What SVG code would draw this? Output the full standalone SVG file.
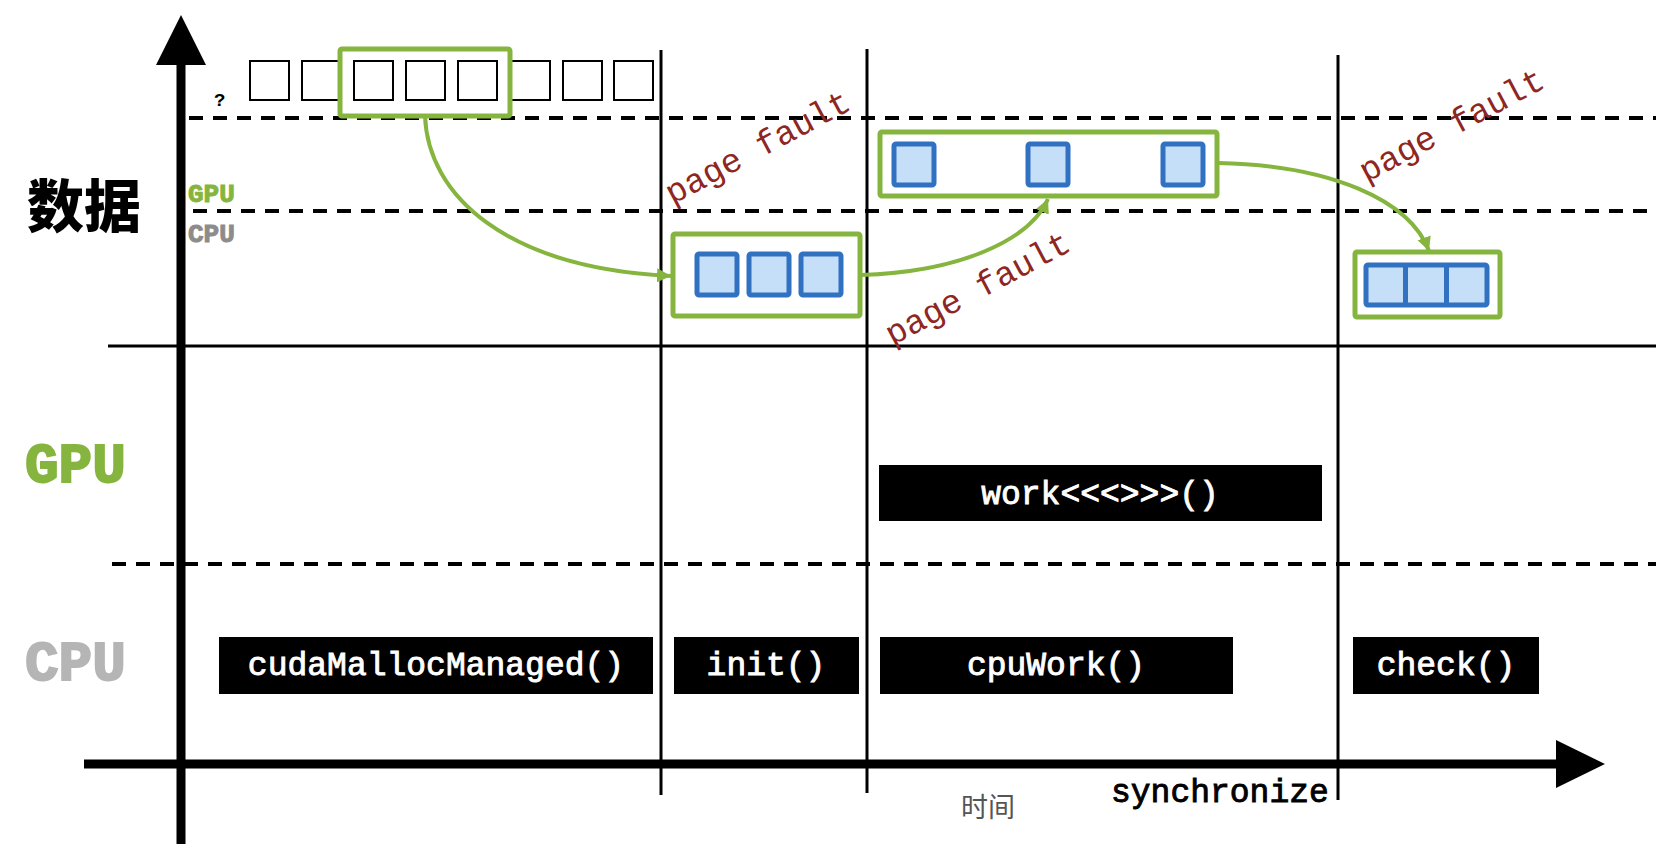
<svg xmlns="http://www.w3.org/2000/svg" width="1656" height="844" viewBox="0 0 1656 844">
<style>
.dash{stroke:#000;stroke-width:4;stroke-dasharray:14 10;fill:none}
.thin{stroke:#000;stroke-width:3;fill:none}
.sq{fill:#fff;stroke:#000;stroke-width:2}
.gbox{fill:#fff;stroke:#85b53e;stroke-width:5}
.gboxn{fill:none;stroke:#85b53e;stroke-width:5}
.bsq{fill:#c6dff8;stroke:#3171c1;stroke-width:5}
.bar{fill:#000}
.bt{font-family:"Liberation Mono","DejaVu Sans Mono",monospace;font-size:33px;fill:#fff;stroke:#fff;stroke-width:0.9px;text-anchor:middle}
.pf{font-family:"Liberation Mono","DejaVu Sans Mono",monospace;font-size:34px;fill:#8e2621;text-anchor:middle}
.conn{fill:none;stroke:#85b53e;stroke-width:4}
.lab{font-family:"Liberation Mono","DejaVu Sans Mono",monospace;font-weight:bold}
.mono{font-family:"Liberation Mono","DejaVu Sans Mono",monospace}
</style>
<defs>
<marker id="ah" markerUnits="userSpaceOnUse" markerWidth="16" markerHeight="16" refX="14" refY="7" orient="auto">
<path d="M0,0 L14,7 L0,14 z" fill="#85b53e"/>
</marker>
</defs>
<rect width="1656" height="844" fill="#fff"/>
<g id="grid">
<line class="dash" x1="189" y1="118" x2="1656" y2="118"/>
<line class="dash" x1="193" y1="211" x2="1656" y2="211"/>
<line class="dash" x1="112" y1="564" x2="1656" y2="564"/>
<line class="thin" x1="108" y1="346" x2="1656" y2="346"/>
<line class="thin" x1="661" y1="50" x2="661" y2="795"/>
<line class="thin" x1="867" y1="49" x2="867" y2="793"/>
<line class="thin" x1="1338" y1="55" x2="1338" y2="800"/>
</g>
<g id="axes">
<rect x="176.5" y="60" width="9" height="784" fill="#000"/>
<polygon points="156,65 181,15 206,65" fill="#000"/>
<rect x="84" y="759.5" width="1475" height="9" fill="#000"/>
<polygon points="1556,740 1605,764 1556,788" fill="#000"/>
</g>
<g id="labels">
<text x="27" y="227" font-family="'Noto Sans CJK SC',sans-serif" font-size="57" font-weight="900" fill="#000">数据</text>
<text x="188" y="202" class="lab" font-size="26" fill="#85b53e" stroke="#85b53e" stroke-width="1">GPU</text>
<text x="188" y="242" class="lab" font-size="26" fill="#8c8c8c" stroke="#8c8c8c" stroke-width="1">CPU</text>
<text x="214" y="106" class="lab" font-size="19" fill="#000">?</text>
<text x="25" y="482" class="lab" font-size="56" fill="#85b53e" stroke="#85b53e" stroke-width="2">GPU</text>
<text x="25" y="680" class="lab" font-size="56" fill="#b5b5b5" stroke="#b5b5b5" stroke-width="2">CPU</text>
<text x="1111" y="802" class="mono" font-size="33" fill="#000" stroke="#000" stroke-width="0.9">synchronize</text>
<text x="961" y="817" font-family="'Noto Sans CJK SC',sans-serif" font-size="27" fill="#555">时间</text>
</g>
<g id="memory-row">
<rect class="sq" x="250" y="61" width="39" height="39"/>
<rect class="sq" x="302" y="61" width="39" height="39"/>
<rect class="sq" x="354" y="61" width="39" height="39"/>
<rect class="sq" x="406" y="61" width="39" height="39"/>
<rect class="sq" x="458" y="61" width="39" height="39"/>
<rect class="sq" x="511" y="61" width="39" height="39"/>
<rect class="sq" x="563" y="61" width="39" height="39"/>
<rect class="sq" x="614" y="61" width="39" height="39"/>
<rect class="gboxn" x="340" y="49" width="170" height="67" rx="2"/>
</g>
<g id="connectors">
<path class="conn" d="M425,116 C428,195 505,268 671,276" marker-end="url(#ah)"/>
<path class="conn" d="M861,275 C960,272 1030,240 1048,199" marker-end="url(#ah)"/>
<path class="conn" d="M1218,163 C1330,165 1410,200 1429,251" marker-end="url(#ah)"/>
</g>
<g id="cpu-data-init">
<rect class="gbox" x="673" y="234" width="187" height="82" rx="2"/>
<rect class="bsq" x="697" y="254" width="40" height="41" rx="2"/>
<rect class="bsq" x="749" y="254" width="40" height="41" rx="2"/>
<rect class="bsq" x="801" y="254" width="40" height="41" rx="2"/>
</g>
<g id="gpu-data">
<rect class="gbox" x="880" y="132" width="337" height="64" rx="2"/>
<rect class="bsq" x="894" y="144" width="40" height="41" rx="2"/>
<rect class="bsq" x="1028" y="144" width="40" height="41" rx="2"/>
<rect class="bsq" x="1163" y="144" width="40" height="41" rx="2"/>
</g>
<g id="cpu-data-check">
<rect class="gbox" x="1355" y="252" width="145" height="65" rx="2"/>
<rect class="bsq" x="1366" y="265" width="121" height="40" rx="2"/>
<line x1="1405.5" y1="265" x2="1405.5" y2="305" stroke="#3171c1" stroke-width="5"/>
<line x1="1446.5" y1="265" x2="1446.5" y2="305" stroke="#3171c1" stroke-width="5"/>
</g>
<g id="page-faults">
<text class="pf" transform="translate(758,148) rotate(-28)" x="0" y="10">page fault</text>
<text class="pf" transform="translate(978,289) rotate(-28)" x="0" y="10">page fault</text>
<text class="pf" transform="translate(1452,126) rotate(-28)" x="0" y="10">page fault</text>
</g>
<g id="bar-work">
<rect class="bar" x="879" y="465" width="443" height="56"/>
<text class="bt" x="1100" y="504">work&lt;&lt;&lt;&gt;&gt;&gt;()</text>
</g>
<g id="bar-cudaMallocManaged">
<rect class="bar" x="219" y="637" width="434" height="57"/>
<text class="bt" x="436" y="675">cudaMallocManaged()</text>
</g>
<g id="bar-init">
<rect class="bar" x="674" y="637" width="185" height="57"/>
<text class="bt" x="766" y="675">init()</text>
</g>
<g id="bar-cpuWork">
<rect class="bar" x="880" y="637" width="353" height="57"/>
<text class="bt" x="1056" y="675">cpuWork()</text>
</g>
<g id="bar-check">
<rect class="bar" x="1353" y="637" width="186" height="57"/>
<text class="bt" x="1446" y="675">check()</text>
</g>
</svg>
